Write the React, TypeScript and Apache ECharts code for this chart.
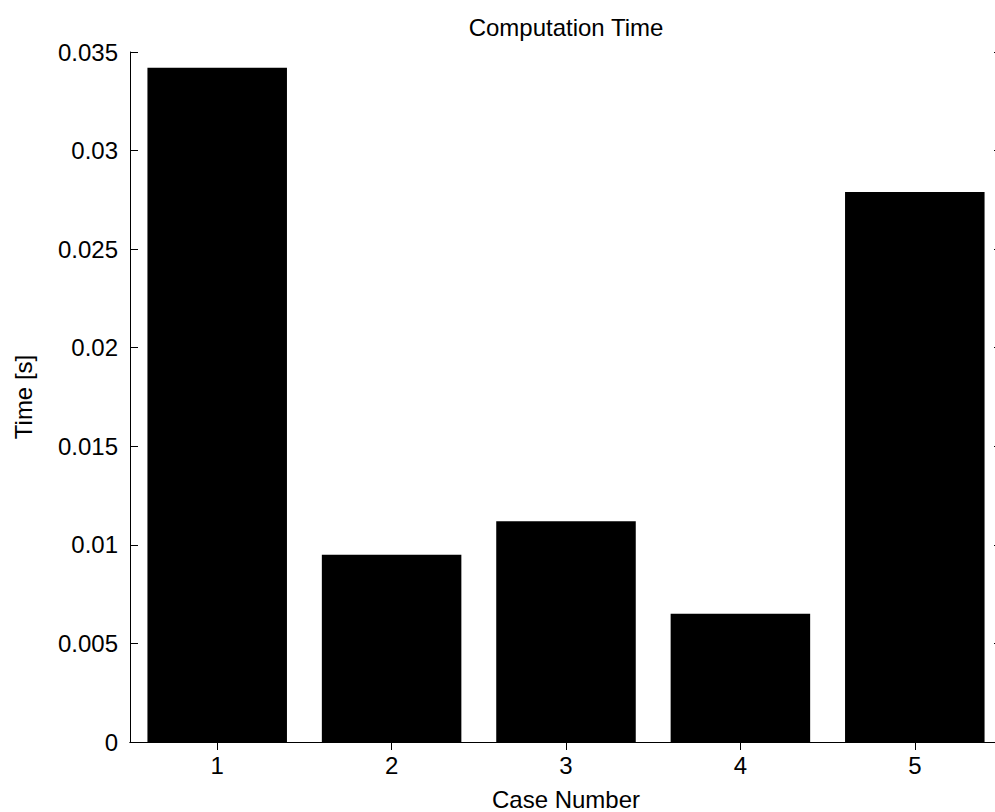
import React, { useEffect, useRef } from "react";
import * as echarts from "echarts";

const categories = ["1", "2", "3", "4", "5"];
const times = [0.0342, 0.0095, 0.0112, 0.0065, 0.0279];
const yTicks = { min: 0, max: 0.035, interval: 0.005 };

const FONT = "Liberation Sans, Arial, sans-serif";

export default function App() {
  const ref = useRef<HTMLDivElement>(null);
  useEffect(() => {
    if (!ref.current) return;
    const chart = echarts.init(ref.current, undefined, { renderer: "svg" });
    const axisLine = { show: true, lineStyle: { color: "#000", width: 1 } };
    const axisTick = { show: true, inside: true, length: 8, lineStyle: { color: "#000", width: 1 } };
    chart.setOption({
      animation: false,
      backgroundColor: "#fff",
      title: {
        text: "Computation Time",
        left: 561,
        textAlign: "center",
        top: 10,
        textStyle: { fontFamily: FONT, fontSize: 24, fontWeight: "normal", color: "#000" },
      },
      grid: { left: 130, top: 52, width: 872, height: 690, outerBoundsMode: "none", containLabel: false },
      xAxis: [
        {
          type: "category",
          data: categories,
          name: "Case Number",
          nameLocation: "middle",
          nameGap: 45,
          nameTextStyle: { fontFamily: FONT, fontSize: 24, color: "#000" },
          axisLine,
          axisTick: { ...axisTick, alignWithLabel: true },
          axisLabel: { fontFamily: FONT, fontSize: 24, color: "#000", margin: 11 },
          splitLine: { show: false },
        },
        {
          type: "category",
          data: categories,
          position: "top",
          axisLine,
          axisTick: { ...axisTick, alignWithLabel: true },
          axisLabel: { show: false },
          splitLine: { show: false },
        },
      ],
      yAxis: [
        {
          type: "value",
          min: yTicks.min,
          max: yTicks.max,
          interval: yTicks.interval,
          name: "Time [s]",
          nameLocation: "middle",
          nameGap: 95,
          nameTextStyle: { fontFamily: FONT, fontSize: 24, color: "#000" },
          axisLine,
          axisTick,
          axisLabel: { fontFamily: FONT, fontSize: 24, color: "#000", margin: 12 },
          splitLine: { show: false },
        },
        {
          type: "value",
          min: yTicks.min,
          max: yTicks.max,
          interval: yTicks.interval,
          position: "right",
          axisLine,
          axisTick,
          axisLabel: { show: false },
          splitLine: { show: false },
        },
      ],
      series: [
        {
          type: "bar",
          data: times,
          barWidth: "80%",
          itemStyle: { color: "#000" },
        },
      ],
    });
    return () => chart.dispose();
  }, []);
  return (
    <div
      ref={ref}
      style={{ position: "absolute", left: 0, top: 0, width: 995, height: 812, background: "#fff" }}
    />
  );
}
